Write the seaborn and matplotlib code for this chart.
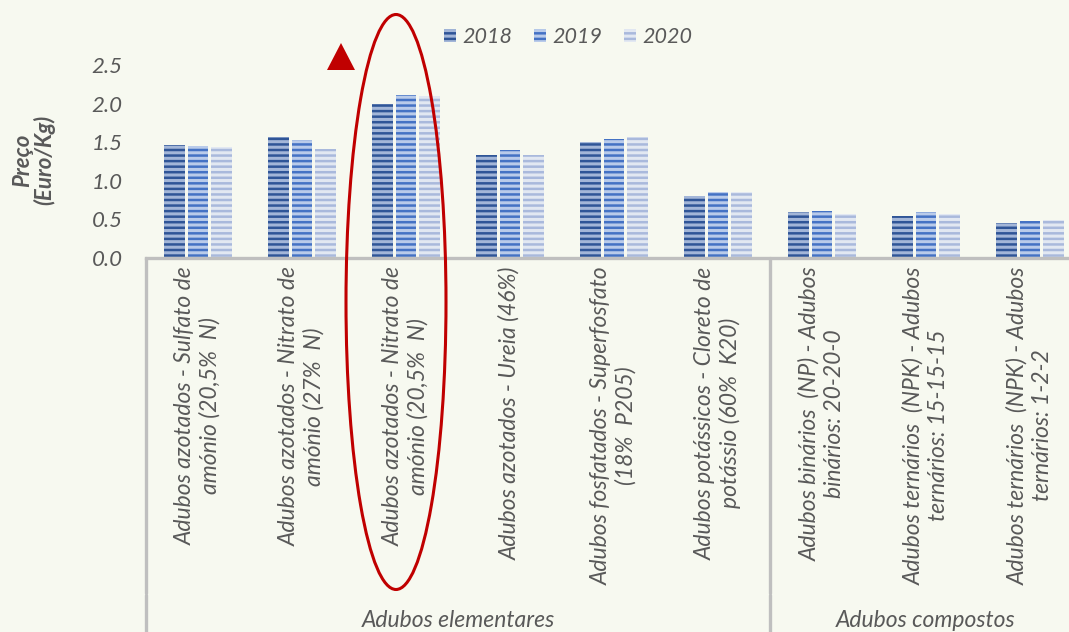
import matplotlib.pyplot as plt
import matplotlib.patches as mpatches
import matplotlib.transforms as mtransforms
import pandas as pd
import seaborn as sns

# dados
categories = [
    "Adubos azotados - Sulfato de\namónio (20,5%  N)",
    "Adubos azotados - Nitrato de\namónio (27%  N)",
    "Adubos azotados - Nitrato de\namónio (20,5%  N)",
    "Adubos azotados - Ureia (46%)",
    "Adubos fosfatados - Superfosfato\n(18%  P205)",
    "Adubos potássicos - Cloreto de\npotássio (60%  K20)",
    "Adubos binários  (NP) - Adubos\nbinários: 20-20-0",
    "Adubos ternários  (NPK) - Adubos\nternários: 15-15-15",
    "Adubos ternários  (NPK) - Adubos\nternários: 1-2-2",
]
years = ["2018", "2019", "2020"]
v2018 = [1.46, 1.57, 1.99, 1.33, 1.50, 0.80, 0.59, 0.55, 0.45]
v2019 = [1.45, 1.53, 2.11, 1.40, 1.54, 0.85, 0.61, 0.59, 0.48]
v2020 = [1.44, 1.41, 2.10, 1.33, 1.57, 0.86, 0.57, 0.57, 0.49]
groups = ["Adubos elementares", "Adubos compostos"]
group_sizes = [6, 3]
yticks = [0.0, 0.5, 1.0, 1.5, 2.0, 2.5]

df = pd.DataFrame({
    "cat": categories * 3,
    "year": [y for y in years for _ in categories],
    "val": v2018 + v2019 + v2020,
})

faces = ["#2f5597", "#4472c4", "#a9b9dc"]
stripes = ["#a3b6d8", "#b9cbea", "#e2e8f2"]
grey = "#595959"
bg = "#f7f9f0"

sns.set_theme(style="white")
plt.rcParams["font.family"] = ["Lato", "DejaVu Sans"]
plt.rcParams["hatch.linewidth"] = 2.2

W, H = 1069, 632
fig = plt.figure(figsize=(W / 100, H / 100), dpi=100, facecolor=bg)
ax = fig.add_axes([146 / W, (H - 258) / H, (W - 146) / W, 193 / H])
ax.set_facecolor(bg)

sns.barplot(data=df, x="cat", y="val", hue="year", order=categories, hue_order=years,
            palette=faces, width=0.68, gap=0.11, legend=False, ax=ax)
for cont, fc, hc in zip(ax.containers, faces, stripes):
    for bar in cont:
        bar.set_facecolor(fc)
        bar.set_edgecolor(hc)
        bar.set_hatch("---")
        bar.set_linewidth(0)

ax.set_xlim(-0.5, 8.5 - 13 / 104)
ax.set_ylim(0, 2.5)
ax.set_xlabel("")
ax.set_ylabel("")
for s in ["left", "top", "right"]:
    ax.spines[s].set_visible(False)
ax.spines["bottom"].set_color("#bfbfbf")
ax.spines["bottom"].set_linewidth(2.4)

ax.set_yticks(yticks)
ax.set_yticklabels([f"{t:.1f}" for t in yticks], fontsize=16, style="italic", color=grey)
ax.tick_params(axis="y", length=0, pad=17)
ax.tick_params(axis="x", length=0, pad=6)
ax.set_xticks(range(len(categories)))
ax.set_xticklabels(categories, rotation=90, fontsize=16.5, style="italic", color=grey)
for lbl in ax.get_xticklabels():
    lbl.set_multialignment("center")

# separadores e grupos
trans = mtransforms.blended_transform_factory(ax.transData, ax.transAxes)
ybot = -(H - 258) / 193
ysplit = -(593 - 258) / 193
start = -0.5
for name, n in zip(groups, group_sizes):
    ax.plot([start, start], [0, ysplit], color="#bfbfbf", lw=2.4, transform=trans, clip_on=False)
    ax.plot([start, start], [ysplit - 0.008, ybot], color="#bfbfbf", lw=2.4, transform=trans, clip_on=False)
    ax.text(start + n / 2, -(620 - 258) / 193, name, transform=trans, ha="center", va="center",
            fontsize=16.5, style="italic", color=grey)
    start += n

fig.text(34 / W, 1 - 160 / H, "Preço\n(Euro/Kg)", rotation=90, ha="center", va="center",
         fontsize=16, fontweight="bold", style="italic", color=grey, multialignment="center",
         linespacing=1.0)

# legenda
handles = [mpatches.Patch(facecolor=fc, edgecolor=hc, hatch="---", linewidth=0)
           for fc, hc in zip(faces, stripes)]
fig.legend(handles, years, loc="center", bbox_to_anchor=(568 / W, 1 - 37 / H), ncol=3,
           frameon=False, prop={"size": 15.5, "style": "italic"}, labelcolor=grey,
           handlelength=0.55, handleheight=0.55, handletextpad=0.3, columnspacing=1.0)

# anotações
fig.patches.append(mpatches.Ellipse((396 / W, 1 - 302 / H), 100 / W, 575 / H, fill=False,
                                    edgecolor="#c00000", lw=2.2, transform=fig.transFigure))
tri = [[327 / W, 1 - 70 / H], [355 / W, 1 - 70 / H], [341 / W, 1 - 43 / H]]
fig.patches.append(mpatches.Polygon(tri, closed=True, facecolor="#c00000", edgecolor="none",
                                    transform=fig.transFigure))

plt.savefig("out.png", dpi=100, facecolor=bg)
